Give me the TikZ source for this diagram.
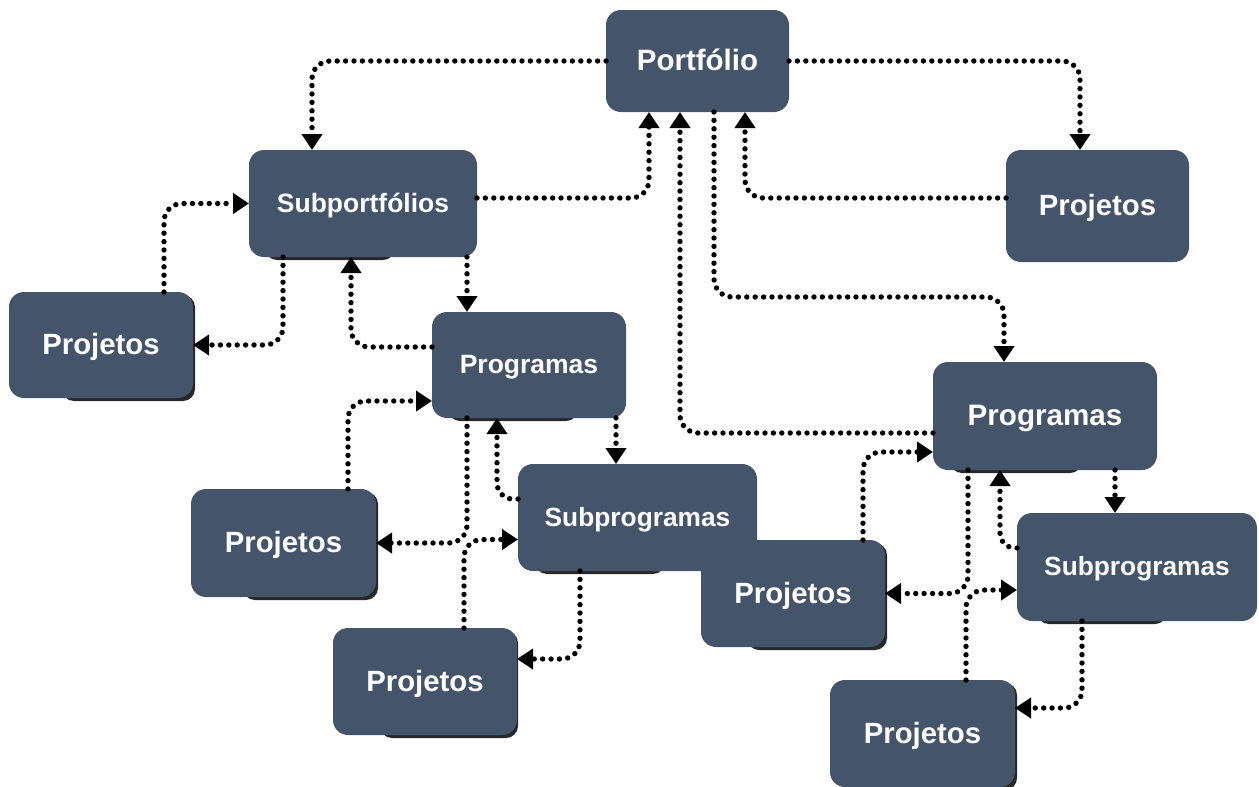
\documentclass[tikz,border=0pt]{standalone}
\usepackage{fontspec}
\setmainfont{Liberation Sans}
\usetikzlibrary{arrows.meta}
\definecolor{boxfill}{RGB}{68,84,106}
\definecolor{shadowc}{RGB}{40,40,40}

% #1 name, #2-#5 corners (x1,y1,x2,y2), #6 #7 shadow insets, #8 font size, #9 label
\newcommand\pbox[9]{%
  \fill[shadowc, rounded corners=12pt] (#2+#6,#3+3) rectangle (#4+#7,#5+3);
  \node[box=#8, minimum width={#4-#2}, minimum height={#5-#3}] (#1)
    at ({(#2+#4)/2},{(#3+#5)/2}) {#9};%
}

\begin{document}
\begin{tikzpicture}[x=1pt, y=-1pt,
  box/.style={fill=boxfill, rounded corners=15pt, inner sep=0pt, outer sep=0pt,
    text=white, font=\bfseries\fontsize{#1}{#1}\selectfont,
    text height=\dimexpr #1pt*72/100\relax, text depth=\dimexpr #1pt*5/100\relax},
  box/.default=29,
  conn/.style={draw=black, line width=5.4pt, line cap=round,
    dash pattern=on 0pt off 8.4pt, rounded corners=18pt,
    -{Triangle[width=20pt,length=16pt]}}]
\useasboundingbox (0,0) rectangle (1259,787);

% boxes
\node[box=29.5, minimum width=183, minimum height=102] (port) at (697.5,61) {Portfólio};
\node[box=29.3, minimum width=183, minimum height=112] (prjA) at (1097.5,206) {Projetos};
\pbox{subpf}{249}{150}{477}{257}{16}{-82}{26.5}{Subportfólios}
\pbox{prjB}{9}{292}{193}{398}{53}{2}{29.3}{Projetos}
\pbox{progA}{432}{312}{626}{418}{16}{-48}{26.5}{Programas}
\pbox{prjC}{191}{489}{376}{597}{52}{2}{29.3}{Projetos}
\pbox{subpgA}{518}{464}{757}{571}{17}{-92}{26.3}{Subprogramas}
\pbox{prjD}{333}{628}{517}{735}{47}{1}{29.3}{Projetos}
\pbox{prjE}{701}{540}{885}{647}{46}{2}{29.3}{Projetos}
\pbox{progB}{933}{362}{1157}{470}{17}{-75}{29.6}{Programas}
\pbox{subpgB}{1017}{513}{1257}{621}{20}{-90}{26.3}{Subprogramas}
\pbox{prjF}{830}{680}{1015}{787}{40}{2}{29.3}{Projetos}

% portfolio links
\draw[conn] (port.west) -| ([xshift=63]subpf.north west);
\draw[conn] (port.east) -| ([xshift=74]prjA.north west);
\draw[conn] ([yshift=8]prjA.west) -| ([xshift=139]port.south west);
\draw[conn] ([yshift=5.5]subpf.east) -| ([xshift=43]port.south west);
\draw[conn] ([yshift=-17]progB.west) -| ([xshift=74]port.south west);
\draw[conn] ([xshift=108]port.south west) -- ++(0,185) -| ([xshift=71]progB.north west);

% subportfolio links
\draw[conn] ([xshift=155]prjB.north west) |- (subpf.west);
\draw[conn] ([xshift=34]subpf.south west) |- (prjB.east);
\draw[conn] ([yshift=18]progA.west) -| ([xshift=102]subpf.south west);
\draw[conn] ([xshift=-10]subpf.south east) -- ([xshift=35]progA.north west);

% left programme links
\draw[conn] ([xshift=157]prjC.north west) |- ([yshift=-36]progA.west);
\draw[conn] ([xshift=35]progA.south west) |- (prjC.east);
\draw[conn, rounded corners=16pt] ([yshift=18.5]subpgA.west) -| ([xshift=65]progA.south west);
\draw[conn] ([xshift=-10]progA.south east) -- ([xshift=98]subpgA.north west);
\draw[conn] ([xshift=131]prjD.north west) |- ([yshift=-22]subpgA.west);
\draw[conn] ([xshift=62]subpgA.south west) |- ([yshift=22.5]prjD.east);

% right programme links
\draw[conn] ([xshift=162]prjE.north west) |- ([yshift=-36]progB.west);
\draw[conn] ([xshift=35]progB.south west) |- (prjE.east);
\draw[conn, rounded corners=15pt] ([yshift=19]subpgB.west) -| ([xshift=67]progB.south west);
\draw[conn] ([xshift=-42]progB.south east) -- ([xshift=98]subpgB.north west);
\draw[conn] ([xshift=136]prjF.north west) |- ([yshift=-23]subpgB.west);
\draw[conn] ([xshift=65]subpgB.south west) |- ([yshift=25.5]prjF.east);
\end{tikzpicture}
\end{document}
